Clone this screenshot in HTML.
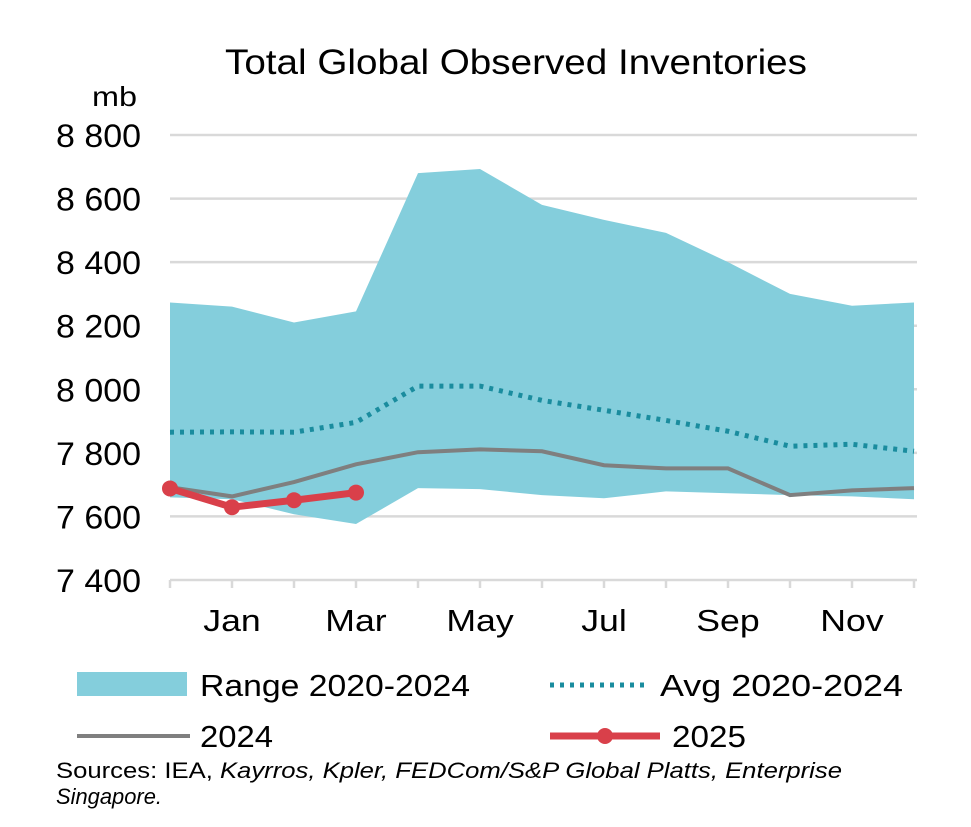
<!DOCTYPE html>
<html><head><meta charset="utf-8"><style>
body{margin:0;background:#fff;width:971px;height:822px;overflow:hidden;font-family:"Liberation Sans",Arial,sans-serif}
</style></head><body>
<svg id="chart" width="971" height="822" style="font-family:'Liberation Sans',Arial,sans-serif">
<text x="225" y="74" font-size="35" textLength="582" lengthAdjust="spacingAndGlyphs" fill="#000">Total Global Observed Inventories</text>
<text x="92" y="106" font-size="28" textLength="45" lengthAdjust="spacingAndGlyphs" fill="#000">mb</text>
<g id="grid"></g><g id="marks"></g><g id="axes"></g>
<g>
<rect x="77" y="672" width="110" height="24" fill="#84CEDC"/>
<text x="200" y="696" font-size="31" textLength="270" lengthAdjust="spacingAndGlyphs">Range 2020-2024</text>
<line x1="550" y1="685" x2="650" y2="685" stroke="#1A8C9E" stroke-width="5" stroke-dasharray="4 6"/>
<text x="660" y="696" font-size="31" textLength="243" lengthAdjust="spacingAndGlyphs">Avg 2020-2024</text>
<line x1="77" y1="736" x2="190" y2="736" stroke="#7F7F7F" stroke-width="4"/>
<text x="200" y="747" font-size="31" textLength="73" lengthAdjust="spacingAndGlyphs">2024</text>
<line x1="550" y1="736" x2="660" y2="736" stroke="#D9404A" stroke-width="7"/>
<circle cx="605" cy="736" r="8" fill="#D9404A"/>
<text x="672" y="747" font-size="31" textLength="74" lengthAdjust="spacingAndGlyphs">2025</text>
</g>
<text x="56" y="778" font-size="22" textLength="786" lengthAdjust="spacingAndGlyphs">Sources: IEA, <tspan font-style="italic">Kayrros, Kpler, FEDCom/S&amp;P Global Platts, Enterprise</tspan></text>
<text x="56" y="804" font-size="22" textLength="106" lengthAdjust="spacingAndGlyphs" font-style="italic">Singapore.</text>
</svg>
<script>
const categories=["Dec","Jan","Feb","Mar","Apr","May","Jun","Jul","Aug","Sep","Oct","Nov","Dec"];
const rangeMax=[8273,8260,8210,8245,8680,8693,8580,8533,8492,8400,8300,8263,8273];
const rangeMin=[7660,7654,7607,7576,7689,7686,7667,7657,7679,7673,7667,7663,7654];
const avg=[7865,7866,7865,7896,8010,8010,7965,7934,7902,7868,7821,7827,7805];
const y2024=[7692,7663,7708,7764,7802,7811,7805,7761,7751,7751,7667,7682,7689];
const y2025=[7688,7629,7651,7675];
const yTicks=[7400,7600,7800,8000,8200,8400,8600,8800];
const yTickLabels=["7 400","7 600","7 800","8 000","8 200","8 400","8 600","8 800"];
const xLabels=[[1,"Jan"],[3,"Mar"],[5,"May"],[7,"Jul"],[9,"Sep"],[11,"Nov"]];
const NS="http://www.w3.org/2000/svg";
const x=i=>170+i*62;
const y=v=>580-(v-7400)*(445/1400);
function mk(tag,attrs,parent){const e=document.createElementNS(NS,tag);for(const k in attrs)e.setAttribute(k,attrs[k]);parent.appendChild(e);return e;}
const grid=document.getElementById('grid'),marks=document.getElementById('marks'),axes=document.getElementById('axes');
yTicks.forEach((t,i)=>{
 if(i>0){const g=mk('line',{x1:170,x2:917,y1:y(t),y2:y(t),stroke:'#D9D9D9','stroke-width':2.5},grid);
 
 }
 const l=mk('text',{x:56,y:y(t)+12,'font-size':32,textLength:85,lengthAdjust:'spacingAndGlyphs'},axes);l.textContent=yTickLabels[i];
 
 
});
let pts=rangeMax.map((v,i)=>x(i)+','+y(v)).concat(rangeMin.map((v,i)=>x(i)+','+y(v)).reverse());
const area=mk('polygon',{points:pts.join(' '),fill:'#84CEDC'},marks);


const pl=(arr)=>arr.map((v,i)=>x(i)+','+y(v)).join(' ');
const a=mk('polyline',{points:pl(avg),fill:'none',stroke:'#1A8C9E','stroke-width':5,'stroke-dasharray':'4 6'},marks);


const b=mk('polyline',{points:pl(y2024),fill:'none',stroke:'#7F7F7F','stroke-width':4},marks);


const c=mk('polyline',{points:pl(y2025),fill:'none',stroke:'#D9404A','stroke-width':7},marks);


y2025.forEach((v,i)=>{const d=mk('circle',{cx:x(i),cy:y(v),r:8,fill:'#D9404A'},marks);
 
 });
const ax=mk('line',{x1:170,x2:917,y1:580,y2:580,stroke:'#D9D9D9','stroke-width':2.5},axes);


categories.forEach((c2,i)=>{const t=mk('line',{x1:x(i),x2:x(i),y1:580,y2:588,stroke:'#D9D9D9','stroke-width':2.5},axes);
 
 });
xLabels.forEach(([i,s])=>{const t=mk('text',{x:x(i),y:631,'font-size':31,'text-anchor':'middle',transform:'translate('+x(i)+' 0) scale(1.15 1) translate('+(-x(i))+' 0)'},axes);t.textContent=s;
 
 });
</script>
</body></html>
